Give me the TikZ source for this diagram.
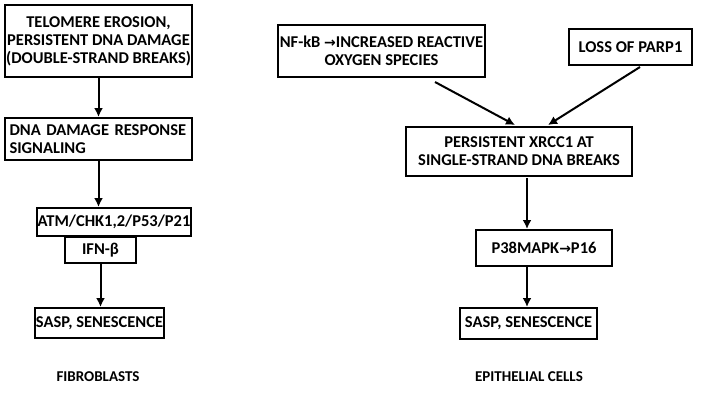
\documentclass[tikz,border=0pt]{standalone}
\usepackage{fontspec}
\setmainfont{Carlito}
\newfontfamily\arrowfont{DejaVu Sans}
\usetikzlibrary{positioning,arrows.meta}

\tikzset{
  box/.style={draw, line width=2pt, inner sep=1pt, font=\bfseries\fontsize{16.5}{18}\selectfont, align=center},
  flow/.style={-{Latex[length=9pt,width=9pt]}, line width=2pt},
  tag/.style={font=\bfseries\fontsize{15}{16}\selectfont}
}
\newcommand{\rarr}{{\arrowfont\bfseries\fontsize{14}{16}\selectfont →}}

\begin{document}
\begin{tikzpicture}[x=1pt,y=-1pt]
  \useasboundingbox (0,0) rectangle (709,400);
  % Fibroblasts
  \node[box, minimum width=187pt, minimum height=72pt] (telo) at (98.5,41) {TELOMERE EROSION,\\PERSISTENT DNA DAMAGE\\(DOUBLE-STRAND BREAKS)};
  \node[box, minimum width=187pt, minimum height=42pt, align=left, text width=178pt] (ddr) at (98.5,139) {DNA DAMAGE RESPONSE\\SIGNALING};
  \node[box, minimum width=152pt, minimum height=28pt] (atm) at (114,222) {ATM/CHK1,2/P53/P21};
  \node[box, minimum width=71pt, minimum height=26pt, anchor=north] (ifn) at (100.5,236) {IFN-β};
  \node[box, minimum width=123pt, minimum height=30pt] (saspl) at (99.5,323) {SASP, SENESCENCE};
  \node[tag] (fib) at (98,377) {FIBROBLASTS};

  % Epithelial cells
  \node[box, minimum width=207pt, minimum height=52pt] (nfkb) at (381.5,51) {NF-kB \rarr INCREASED REACTIVE\\OXYGEN SPECIES};
  \node[box, minimum width=123pt, minimum height=36pt] (parp) at (630.5,47) {LOSS OF PARP1};
  \node[box, minimum width=226pt, minimum height=49pt] (xrcc) at (519,151.5) {PERSISTENT XRCC1 AT\\SINGLE-STRAND DNA BREAKS};
  \node[box, minimum width=136pt, minimum height=36pt] (p38) at (544,248) {P38MAPK\rarr P16};
  \node[box, minimum width=137pt, minimum height=31pt] (sasp) at (528.5,323.5) {SASP, SENESCENCE};
  \node[tag] (epi) at (529,377) {EPITHELIAL CELLS};

  \coordinate (n1) at (435,82);
  \coordinate (n2) at (515,125);
  \coordinate (p1) at (640,67);
  \coordinate (p2) at (548,125);
  \coordinate (x1) at (527,178);

  % Arrows
  \draw[flow] (telo.south) -- (ddr.north);
  \draw[flow] (ddr.south) -- (ddr.south |- atm.north);
  \draw[flow] (ifn.south) -- (ifn.south |- saspl.north);
  \draw[flow] (n1) -- (n2);
  \draw[flow] (p1) -- (p2);
  \draw[flow] (x1) -- (x1 |- p38.north);
  \draw[flow] (x1 |- p38.south) -- (sasp.north -| x1);
\end{tikzpicture}
\end{document}
